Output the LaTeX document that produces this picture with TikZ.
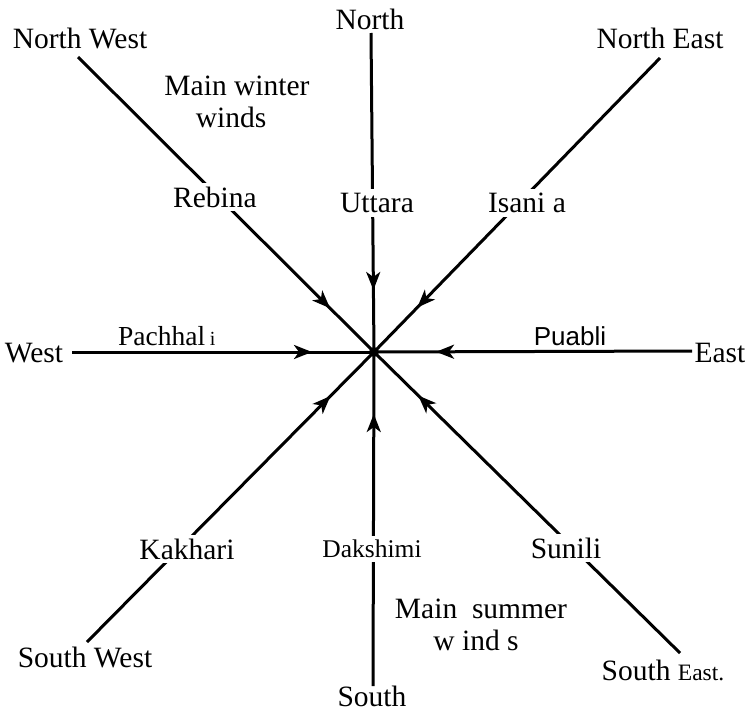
\documentclass[tikz,border=0pt]{standalone}
\usepackage{fontspec}
\setmainfont{Liberation Serif}
\newfontfamily\arialf{Liberation Sans}
\usetikzlibrary{arrows.meta,decorations.markings}
\begin{document}
\begin{tikzpicture}[x=1pt,y=-1pt,
  wind/.style={line width=3pt, postaction={decorate},
    decoration={markings, mark=at position -62pt with {\arrow{Stealth[length=18pt,width=14pt,inset=5pt]}}}},
  lbl/.style={font=\fontsize{29.5}{33}\selectfont, inner sep=1pt},
  onl/.style={lbl, fill=white, inner sep=4pt}]
\useasboundingbox (0,0) rectangle (752,712);
\coordinate (c) at (374,352);
\coordinate (pN) at (371,33);
\coordinate (pNE) at (660,58);
\coordinate (pNW) at (78,57);
\coordinate (pW) at (72,352);
\coordinate (pE) at (692,351);
\coordinate (pSW) at (87,642);
\coordinate (pS) at (373,686);
\coordinate (pSE) at (680,653);
% connectors
\draw[wind] (pN) -- (c);
\draw[wind] (pNE) -- (c);
\draw[wind] (pNW) -- (c);
\draw[wind] (pW) -- (c);
\draw[wind] (pE) -- (c);
\draw[wind] (pSW) -- (c);
\draw[wind] (pS) -- (c);
\draw[wind] (pSE) -- (c);
\fill (c) circle (5pt);
% direction labels
\node[lbl] (lN) at (370,19) {North};
\node[lbl] (lNW) at (80,38) {North West};
\node[lbl] (lNE) at (660,38) {North East};
\node[lbl] (lW) at (34,353) {West};
\node[lbl] (lE) at (720,353) {East};
\node[lbl] (lSW) at (85,657) {South West};
\node[lbl] (lS) at (372,696) {South};
\node[lbl] (lSE) at (663,670) {South {\fontsize{23.5}{26}\selectfont East.}};
% wind names
\node[onl] (rebina) at (215,197) {Rebina};
\node[onl] (uttara) at (377,203) {Uttara};
\node[onl] (isani) at (527,203) {Isani a};
\node[lbl, font=\fontsize{27.5}{30}\selectfont, anchor=base west] (pach) at (117,345) {Pachhal\,{\fontsize{20}{24}\selectfont i}};
\node[lbl, font=\arialf\fontsize{26}{28}\selectfont] (puabli) at (570,336) {Puabli};
\node[onl] (kakhari) at (187,549) {Kakhari};
\node[onl, font=\fontsize{25.5}{28}\selectfont] (dakshimi) at (372,549) {Dakshimi};
\node[onl] (sunili) at (566,548) {Sunili};
% seasons
\node[lbl] (win1) at (237,86) {Main winter};
\node[lbl] (win2) at (231,117) {winds};
\node[lbl] (sum1) at (481,609) {Main\ \ summer};
\node[lbl] (sum2) at (476,640) {w ind s};
\end{tikzpicture}
\end{document}
